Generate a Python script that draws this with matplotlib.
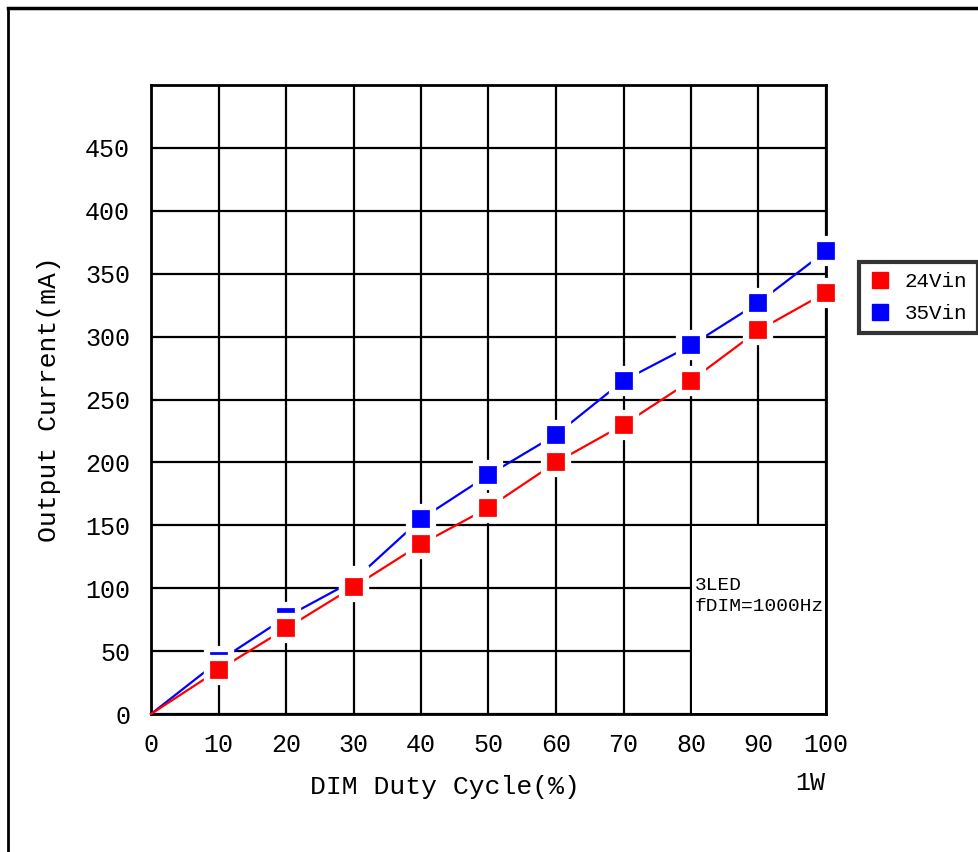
import matplotlib
matplotlib.use("Agg")
import matplotlib.pyplot as plt
from matplotlib.lines import Line2D
from matplotlib.patches import Rectangle

plt.rcParams['font.family'] = ['Liberation Mono', 'DejaVu Sans Mono']

# data
duty = [0, 10, 20, 30, 40, 50, 60, 70, 80, 90, 100]
cur_24vin = [0, 35, 68, 101, 135, 164, 200, 230, 265, 305, 335]
cur_35vin = [0, 42, 77, 106, 155, 190, 222, 265, 293, 327, 368]
yticks = [0, 50, 100, 150, 200, 250, 300, 350, 400, 450]
xticks = [0, 10, 20, 30, 40, 50, 60, 70, 80, 90, 100]

W, H = 979, 852
fig = plt.figure(figsize=(W / 100, H / 100), dpi=100)
ax = fig.add_axes([151 / W, 1 - 714 / H, (826 - 151) / W, (714 - 85) / H])

ax.set_xlim(0, 100)
ax.set_ylim(0, 500)
ax.set_xticks(xticks)
ax.set_yticks(yticks)
ax.tick_params(length=0, labelsize=18)
ax.tick_params(axis='y', pad=15)
ax.tick_params(axis='x', pad=14)
ax.grid(True, color='black', linewidth=1.6, zorder=0.5)
ax.set_axisbelow(True)
for sp in ax.spines.values():
    sp.set_linewidth(2)
    sp.set_zorder(3)

# blank corner where the note sits
ax.add_patch(Rectangle((80.2, 0.7), 19.6, 148.5, facecolor='white',
                       edgecolor='none', zorder=1))
ax.text(80.6, 109, "3LED\nfDIM=1000Hz", fontsize=14, va='top', ha='left',
        linespacing=1.3, zorder=2)

mk = list(range(1, len(duty)))
ax.plot(duty, cur_35vin, color='#0000ff', linewidth=1.6, marker='s',
        markersize=17, markerfacecolor='#0000ff', markeredgecolor='white',
        markeredgewidth=4.5, markevery=mk, zorder=4, clip_on=False)
ax.plot(duty, cur_24vin, color='#ff0000', linewidth=1.6, marker='s',
        markersize=17, markerfacecolor='#ff0000', markeredgecolor='white',
        markeredgewidth=4.5, markevery=mk, zorder=4.1, clip_on=False)

ax.set_ylabel("Output Current(mA)", fontsize=19)
ax.yaxis.set_label_coords(-0.133, 0.5)
fig.text(445 / W, 1 - 787 / H, "DIM Duty Cycle(%)", fontsize=19,
         ha='center', va='center')
fig.text(810 / W, 1 - 783 / H, "1W", fontsize=18, ha='center', va='center')

handles = [
    Line2D([], [], linestyle='none', marker='s', markersize=12,
           color='#ff0000', label='24Vin'),
    Line2D([], [], linestyle='none', marker='s', markersize=12,
           color='#0000ff', label='35Vin'),
]
leg = fig.legend(handles=handles, loc='upper left',
                 bbox_to_anchor=(859 / W, 1 - 262 / H), fontsize=15,
                 frameon=True, fancybox=False, shadow=False,
                 handlelength=1.0, handletextpad=0.7, borderpad=0.5,
                 labelspacing=0.6, borderaxespad=0)
leg.get_frame().set_edgecolor('black')
leg.get_frame().set_linewidth(3)

# outer frame of the picture
fig.add_artist(Line2D([8 / W, 1], [1 - 8 / H, 1 - 8 / H], color='black',
                      linewidth=2.5, transform=fig.transFigure))
fig.add_artist(Line2D([8 / W, 8 / W], [1 - 8 / H, 0], color='black',
                      linewidth=2, transform=fig.transFigure))

fig.savefig("out.png", dpi=100)
